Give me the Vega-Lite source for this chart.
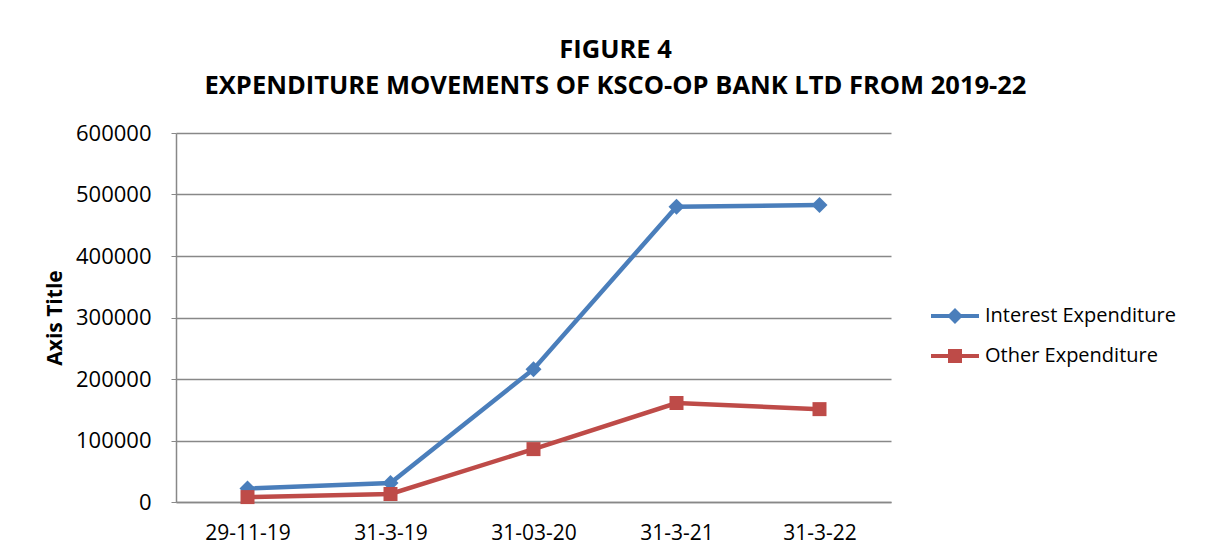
{
  "$schema": "https://vega.github.io/schema/vega-lite/v6.json",
  "width": 715,
  "height": 369,
  "autosize": "none",
  "padding": {"left": 176, "top": 133, "right": 316, "bottom": 56},
  "background": "white",
  "config": {
    "view": {"stroke": null},
    "font": "Open Sans"
  },
  "title": {
    "text": ["FIGURE 4", "EXPENDITURE MOVEMENTS OF KSCO-OP BANK LTD FROM 2019-22"],
    "fontSize": 25.5,
    "fontWeight": "bold",
    "font": "Open Sans",
    "color": "#000000",
    "anchor": "middle",
    "frame": "group",
    "dx": 82,
    "lineHeight": 36,
    "offset": 23
  },
  "data": {
    "values": [
      {"date": "29-11-19", "series": "Interest Expenditure", "value": 22000},
      {"date": "31-3-19", "series": "Interest Expenditure", "value": 31000},
      {"date": "31-03-20", "series": "Interest Expenditure", "value": 216000},
      {"date": "31-3-21", "series": "Interest Expenditure", "value": 480000},
      {"date": "31-3-22", "series": "Interest Expenditure", "value": 483000},
      {"date": "29-11-19", "series": "Other Expenditure", "value": 8000},
      {"date": "31-3-19", "series": "Other Expenditure", "value": 13000},
      {"date": "31-03-20", "series": "Other Expenditure", "value": 86000},
      {"date": "31-3-21", "series": "Other Expenditure", "value": 161000},
      {"date": "31-3-22", "series": "Other Expenditure", "value": 151000}
    ]
  },
  "encoding": {
    "x": {
      "field": "date",
      "type": "ordinal",
      "sort": null,
      "scale": {"type": "point", "padding": 0.5},
      "axis": {
        "title": null,
        "labelAngle": 0,
        "labelFontSize": 21,
        "labelColor": "#000000",
        "labelPadding": 20,
        "ticks": false,
        "domainColor": "#888888",
        "domainWidth": 1.5,
        "grid": false
      }
    },
    "y": {
      "field": "value",
      "type": "quantitative",
      "scale": {"domain": [0, 600000], "nice": false},
      "axis": {
        "title": "Axis Title",
        "titleFontSize": 21,
        "titleFontWeight": "bold",
        "titleColor": "#000000",
        "titlePadding": 10,
        "values": [0, 100000, 200000, 300000, 400000, 500000, 600000],
        "format": "d",
        "labelFontSize": 22,
        "labelColor": "#000000",
        "labelPadding": 20,
        "tickSize": 5,
        "tickColor": "#888888",
        "domainColor": "#888888",
        "domainWidth": 1.5,
        "grid": true,
        "gridColor": "#888888",
        "gridWidth": 1.5
      }
    }
  },
  "layer": [
    {
      "mark": {"type": "line", "strokeWidth": 4.5},
      "encoding": {
        "color": {
          "field": "series",
          "type": "nominal",
          "scale": {
            "domain": ["Interest Expenditure", "Other Expenditure"],
            "range": ["#4A7EBB", "#BE4B48"]
          },
          "legend": {
            "title": null,
            "orient": "none",
            "legendX": 765,
            "legendY": 169,
            "padding": 0,
            "symbolSize": 784,
            "symbolType": "square",
            "labelFontSize": 20,
            "labelLimit": 320,
            "labelColor": "#000000",
            "labelOffset": 16,
            "rowPadding": 16,
            "encode": {
              "symbols": {
                "update": {
                  "shape": {"signal": "datum.value == 'Interest Expenditure' ? 'M-1.714,-0.143H1.714V0.143H-1.714Z M0,-0.57L0.57,0L0,0.57L-0.57,0Z' : 'M-1.714,-0.143H1.714V0.143H-1.714Z M-0.5,-0.5H0.5V0.5H-0.5Z'"},
                  "fill": {"signal": "datum.value == 'Interest Expenditure' ? '#4A7EBB' : '#BE4B48'"},
                  "stroke": {"value": null},
                  "strokeWidth": {"value": 0},
                  "opacity": {"value": 1},
                  "fillOpacity": {"value": 1}
                }
              }
            }
          }
        }
      }
    },
    {
      "transform": [{"filter": "datum.series == 'Interest Expenditure'"}],
      "mark": {"type": "point", "filled": true, "opacity": 1, "shape": "diamond", "size": 256, "color": "#4A7EBB"}
    },
    {
      "transform": [{"filter": "datum.series == 'Other Expenditure'"}],
      "mark": {"type": "point", "filled": true, "opacity": 1, "shape": "square", "size": 196, "color": "#BE4B48"}
    }
  ]
}
